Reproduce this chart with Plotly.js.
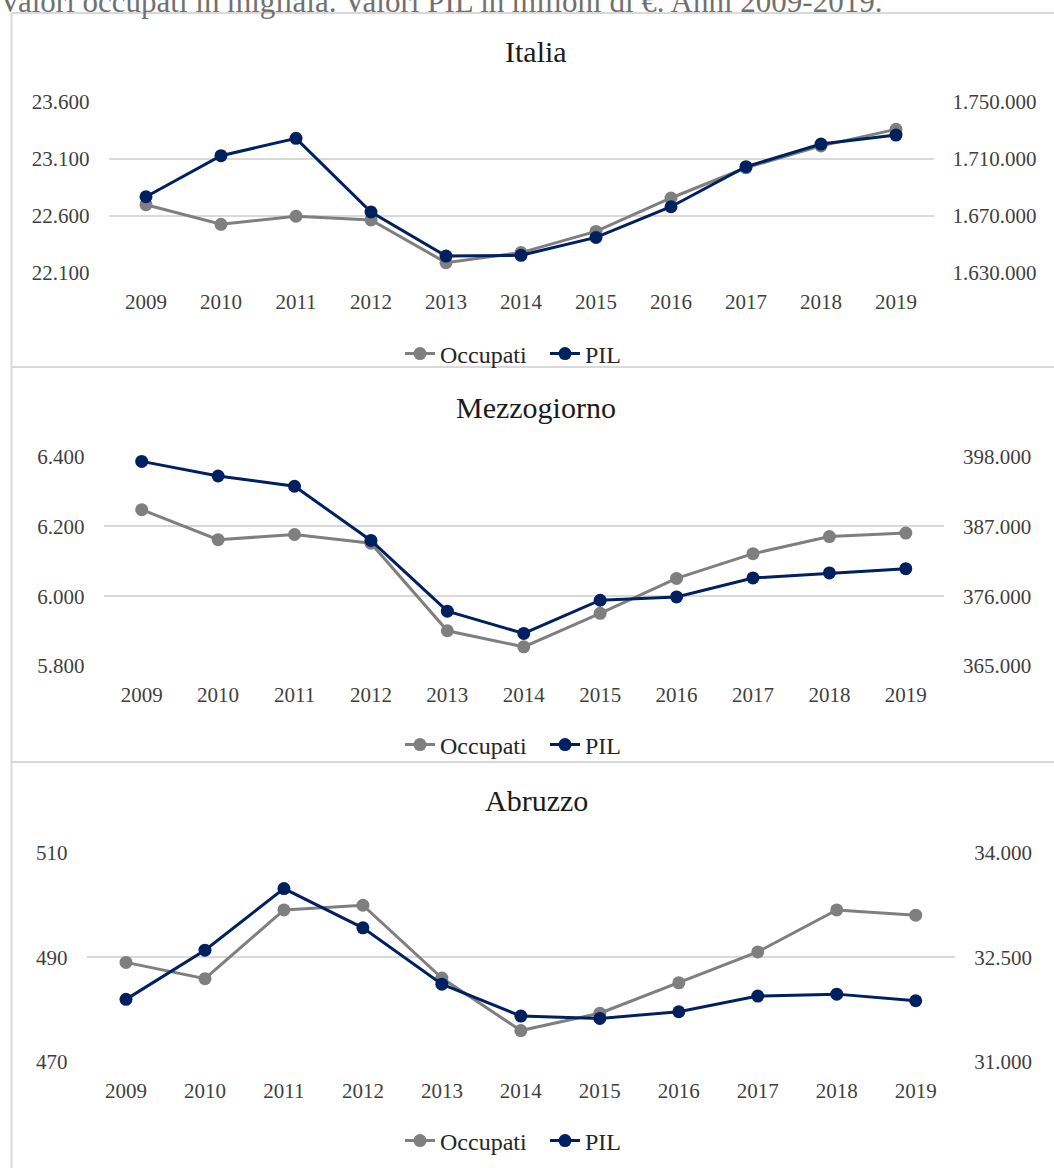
<!DOCTYPE html>
<html>
<head>
<meta charset="utf-8">
<script src="https://cdn.plot.ly/plotly-3.0.1.min.js"></script>
<style>
html,body{margin:0;padding:0;background:#fff;}
#chart{width:1054px;height:1168px;}
</style>
</head>
<body>
<div id="chart"></div>
<script>
// ---- Data ----
const years = ['2009','2010','2011','2012','2013','2014','2015','2016','2017','2018','2019'];

const italiaOccupati = [22699, 22527, 22598, 22566, 22191, 22279, 22465, 22758, 23023, 23215, 23360];
const italiaPIL      = [1683500, 1712300, 1724500, 1672800, 1641900, 1642400, 1655000, 1676500, 1704600, 1720500, 1726800];

const mezzOccupati = [6248, 6162, 6177, 6152, 5901, 5855, 5951, 6051, 6122, 6171, 6181];
const mezzPIL      = [397260, 394960, 393340, 384800, 373640, 370130, 375370, 375890, 378880, 379670, 380350];

const abrOccupati = [489, 485.9, 499, 499.9, 486, 476, 479.3, 485.1, 491, 499, 498];
const abrPIL      = [31896, 32600, 33481, 32919, 32114, 31657, 31624, 31719, 31943, 31971, 31876];

const panelTitles = ['Italia', 'Mezzogiorno', 'Abruzzo'];
const seriesNames = ['Occupati', 'PIL'];
const headerText = 'Valori occupati in migliaia. Valori PIL in milioni di €. Anni 2009-2019.';

// ---- Layout helpers ----
const W = 1054, H = 1168;
const X = px => px / W;
const Y = px => 1 - px / H;

const GRAY = '#7f7f7f';
const NAVY = '#002060';
const FONT = "'Liberation Serif', 'Times New Roman', serif";
const TICKCOL = '#3f3f3f';
const GRID = '#d9d9d9';

const panels = [
  {occ: italiaOccupati, pil: italiaPIL, x0: 108.5, x1: 933.5, yTop: 102, yBot: 273,
   lr: [22100, 23600], ld: 500, rr: [1630000, 1750000], rd: 40000, titleY: 52, legY: 354},
  {occ: mezzOccupati, pil: mezzPIL, x0: 103.5, x1: 944, yTop: 456.7, yBot: 666,
   lr: [5800, 6400], ld: 200, rr: [365000, 398000], rd: 11000, titleY: 407, legY: 745},
  {occ: abrOccupati, pil: abrPIL, x0: 86.5, x1: 955.2, yTop: 852.3, yBot: 1062,
   lr: [470, 510], ld: 20, rr: [31000, 34000], rd: 1500, titleY: 800, legY: 1141}
];

const data = [];
const layout = {
  width: W, height: H,
  margin: {l: 0, r: 0, t: 0, b: 0, pad: 0},
  paper_bgcolor: '#fff', plot_bgcolor: 'rgba(0,0,0,0)',
  separators: ',.',
  font: {family: FONT, color: TICKCOL, size: 21},
  showlegend: true,
  annotations: [],
  shapes: []
};

panels.forEach((p, i) => {
  const n = i + 1;
  const xName = n === 1 ? 'x' : 'x' + n;
  const yL = 'y' + (2 * n - 1 === 1 ? '' : (2 * n - 1));
  const yR = 'y' + (2 * n);
  const legName = n === 1 ? 'legend' : 'legend' + n;

  data.push({
    x: years, y: p.occ, name: seriesNames[0], type: 'scatter', mode: 'lines+markers',
    xaxis: xName, yaxis: yL, legend: legName,
    line: {color: GRAY, width: 3}, marker: {color: GRAY, size: 13},
    cliponaxis: false
  });
  data.push({
    x: years, y: p.pil, name: seriesNames[1], type: 'scatter', mode: 'lines+markers',
    xaxis: xName, yaxis: yR, legend: legName,
    line: {color: NAVY, width: 3}, marker: {color: NAVY, size: 13},
    cliponaxis: false
  });

  const xKey = n === 1 ? 'xaxis' : 'xaxis' + n;
  const yLKey = 'yaxis' + (2 * n - 1 === 1 ? '' : (2 * n - 1));
  const yRKey = 'yaxis' + (2 * n);

  layout[xKey] = {
    domain: [X(p.x0), X(p.x1)], anchor: yL, type: 'category',
    range: [-0.5, years.length - 0.5], showgrid: false, zeroline: false,
    showline: false, ticks: '', ticklabelstandoff: 14,
    tickfont: {family: FONT, size: 21, color: TICKCOL}, fixedrange: true
  };
  layout[yLKey] = {
    domain: [Y(p.yBot), Y(p.yTop)], anchor: xName, range: p.lr, dtick: p.ld, tick0: p.lr[0],
    tickformat: ',', showgrid: true, gridcolor: GRID, gridwidth: 2, zeroline: false,
    showline: false, ticks: '', ticklabelstandoff: 18,
    tickfont: {family: FONT, size: 21, color: TICKCOL}, fixedrange: true
  };
  layout[yRKey] = {
    domain: [Y(p.yBot), Y(p.yTop)], anchor: xName, overlaying: yL, side: 'right',
    range: p.rr, dtick: p.rd, tick0: p.rr[0], tickformat: ',',
    showgrid: false, zeroline: false, showline: false, ticks: '', ticklabelstandoff: 18,
    tickfont: {family: FONT, size: 21, color: TICKCOL}, fixedrange: true
  };
  layout[legName] = {
    orientation: 'h', x: X(545), xanchor: 'center', y: Y(p.legY), yanchor: 'middle',
    font: {family: FONT, size: 24, color: '#262626'}, bgcolor: 'rgba(0,0,0,0)',
    entrywidth: 100, entrywidthmode: 'pixels',
    itemclick: false, itemdoubleclick: false
  };

  layout.annotations.push({
    text: panelTitles[i], xref: 'paper', yref: 'paper', x: X(536), y: Y(p.titleY),
    xanchor: 'center', yanchor: 'middle', showarrow: false,
    font: {family: FONT, size: 30, color: '#1a1a1a'}
  });
});

// header text (partly cut at the top edge, as in the source)
layout.annotations.push({
  text: headerText, xref: 'paper', yref: 'paper', x: X(-3), y: Y(21),
  xanchor: 'left', yanchor: 'bottom', showarrow: false,
  font: {family: FONT, size: 31, color: '#707070'}
});

// panel frames
const frame = {color: GRID, width: 2};
layout.shapes.push({type: 'line', xref: 'paper', yref: 'paper', x0: X(11.5), x1: X(11.5), y0: Y(13), y1: Y(H), line: frame});
[13, 367, 762].forEach(py => {
  layout.shapes.push({type: 'line', xref: 'paper', yref: 'paper', x0: X(11.5), x1: 1, y0: Y(py), y1: Y(py), line: frame});
});

Plotly.newPlot('chart', data, layout, {displayModeBar: false, staticPlot: true});
</script>
</body>
</html>
